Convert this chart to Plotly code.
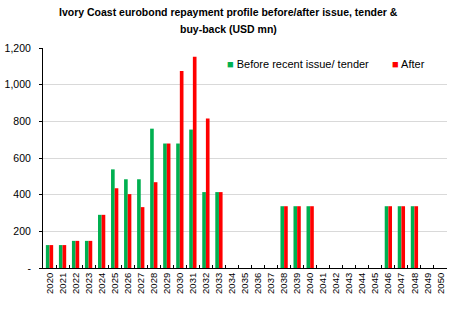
import plotly.graph_objects as go

years = [str(y) for y in range(2020, 2051)]
before = [125, 125, 148, 148, 290, 538, 484, 484, 760, 679, 679, 755, 414, 414,
          0, 0, 0, 0, 337, 337, 337, 0, 0, 0, 0, 0, 337, 337, 337, 0, 0]
after = [125, 125, 148, 148, 290, 435, 403, 332, 468, 679, 1075, 1152, 815, 414,
         0, 0, 0, 0, 337, 337, 337, 0, 0, 0, 0, 0, 337, 337, 337, 0, 0]
yticks = [0, 200, 400, 600, 800, 1000, 1200]
ylabels = ["-", "200", "400", "600", "800", "1,000", "1,200"]
names = ["Before recent issue/ tender", "After"]
colors = ["#00b050", "#ff0000"]

FONT = "Liberation Sans"

fig = go.Figure()
fig.add_trace(go.Bar(x=years, y=before, name=names[0],
                     marker=dict(color=colors[0], line=dict(width=0))))
fig.add_trace(go.Bar(x=years, y=after, name=names[1],
                     marker=dict(color=colors[1], line=dict(width=0))))

title_lines = ["Ivory Coast eurobond repayment profile before/after issue, tender &",
               "buy-back (USD mn)"]
title_px = [12, 29]
for line, p in zip(title_lines, title_px):
    fig.add_annotation(text="<b>%s</b>" % line, xref="paper", yref="paper",
                       x=(226 - 39) / 408.0, y=(268 - p) / 220.0,
                       xanchor="center", yanchor="middle", showarrow=False,
                       font=dict(family=FONT, size=10.5, color="black"))

legend_x = [(223 - 39) / 408.0, (389 - 39) / 408.0]
for nm, col, lx in zip(names, colors, legend_x):
    fig.add_annotation(text="<span style='color:%s'>■</span> %s" % (col, nm),
                       xref="paper", yref="paper", x=lx, y=(268 - 64) / 220.0,
                       xanchor="left", yanchor="middle", showarrow=False,
                       font=dict(family=FONT, size=11, color="black"))

fig.update_layout(
    width=452, height=309,
    margin=dict(l=39, r=5, t=48, b=41),
    paper_bgcolor="white", plot_bgcolor="white",
    barmode="group", bargap=0.44, bargroupgap=0,
    font=dict(family=FONT, size=10, color="black"),
    showlegend=False,
)
fig.update_xaxes(type="category", tickangle=-90, showline=True, linecolor="black",
                 linewidth=1, ticks="inside", ticklen=3, tickcolor="black",
                 tickson="boundaries", showgrid=False, tickfont=dict(size=9.5),
                 fixedrange=True)
fig.update_yaxes(range=[0, 1200], tickvals=yticks, ticktext=ylabels, showline=True,
                 linecolor="black", linewidth=1, ticks="outside", ticklen=3,
                 tickcolor="black", showgrid=True, gridcolor="#d9d9d9", gridwidth=1,
                 zeroline=False, tickfont=dict(size=10.5), ticklabelstandoff=6)

fig.write_html("out.html")
